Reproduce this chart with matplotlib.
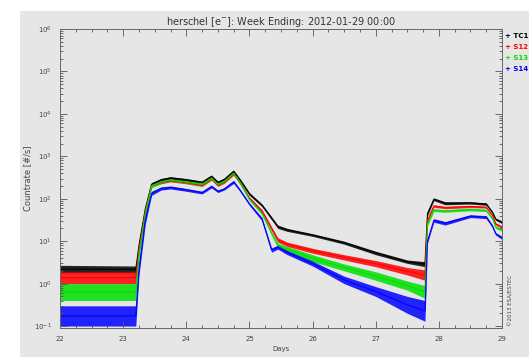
import numpy as np
import matplotlib
matplotlib.use("Agg")
import matplotlib.pyplot as plt
from matplotlib.patches import Rectangle
from matplotlib.ticker import MultipleLocator, LogLocator, NullFormatter

# time samples (days)
days = [22.0, 23.2, 23.25, 23.35, 23.45, 23.6, 23.75, 24.0, 24.25, 24.4, 24.5, 24.6,
        24.75, 24.85, 25.0, 25.2, 25.35, 25.45, 25.6, 26.0, 26.5, 27.0, 27.5, 27.78,
        27.82, 27.92, 28.1, 28.5, 28.75, 28.85, 28.9, 29.0]

# count rate envelopes (#/s), low and high edge of each band
tc1_lo = [1.8, 1.8, 6, 50, 200, 260, 290, 260, 230, 320, 230, 270,
          420, 260, 120, 65, 32, 20, 17, 13, 8.5, 4.8, 3.0, 2.5,
          40, 90, 72, 75, 70, 45, 31, 26]
tc1_hi = [2.7, 2.6, 10, 65, 240, 300, 330, 300, 260, 360, 260, 300,
          470, 300, 140, 75, 38, 24, 20, 15, 10, 5.8, 3.6, 3.3,
          50, 105, 85, 85, 80, 50, 35, 30]

s12_lo = [1.0, 1.0, 5, 45, 190, 225, 250, 225, 195, 275, 195, 230,
          360, 225, 95, 48, 18, 9.5, 7.5, 5.2, 3.6, 2.5, 1.6, 1.2,
          28, 63, 58, 62, 60, 38, 24, 20]
s12_hi = [1.9, 1.9, 8, 55, 220, 255, 285, 255, 220, 310, 220, 255,
          400, 255, 110, 55, 22, 12, 9.5, 6.8, 4.8, 3.5, 2.4, 2.1,
          33, 72, 66, 70, 66, 42, 27, 23]

s13_lo = [0.4, 0.4, 4, 40, 180, 230, 260, 230, 200, 285, 200, 240,
          370, 230, 90, 42, 14, 7, 5.5, 3.3, 2.0, 1.2, 0.7, 0.45,
          23, 50, 48, 52, 50, 32, 20, 17]
s13_hi = [1.0, 1.0, 6, 50, 220, 265, 295, 265, 235, 325, 235, 270,
          420, 265, 105, 48, 17, 9, 7.5, 4.8, 2.9, 1.9, 1.15, 0.9,
          28, 58, 55, 60, 56, 36, 23, 19]

s14_lo = [0.1, 0.1, 1.5, 25, 120, 160, 170, 150, 130, 180, 140, 160,
          230, 150, 70, 30, 5.5, 6.5, 4.8, 2.6, 1.0, 0.5, 0.2, 0.13,
          9, 28, 24, 36, 34, 21, 14, 11]
s14_hi = [0.3, 0.3, 3, 40, 150, 190, 200, 175, 150, 210, 160, 180,
          270, 170, 80, 36, 7, 8, 6, 3.4, 1.5, 0.85, 0.5, 0.4,
          11, 34, 29, 42, 40, 24, 16, 13]

series = [("TC1", tc1_lo, tc1_hi, "#000000"),
          ("S12", s12_lo, s12_hi, "#ff0000"),
          ("S13", s13_lo, s13_hi, "#00e000"),
          ("S14", s14_lo, s14_hi, "#0000ff")]

W, H = 529, 357
fig = plt.figure(figsize=(W / 100, H / 100), dpi=100)
fig.patch.set_facecolor("white")


def fx(x):
    return x / W


def fy(y):
    return 1 - y / H


# grey panel behind the plot
fig.patches.append(Rectangle((fx(20), 0), 1 - fx(20), fy(11), transform=fig.transFigure,
                             facecolor="#e6e6e6", edgecolor="none", zorder=-10))

ax = fig.add_axes([fx(60), fy(328), fx(502) - fx(60), fy(29) - fy(328)])
ax.set_facecolor("#e6e6e6")
ax.set_yscale("log")
ax.set_xlim(22, 29)
ax.set_ylim(0.09, 1e6)

t = np.array(days)
for name, lo, hi, col in series:
    lo = np.array(lo)
    hi = np.array(hi)
    ax.fill_between(t, lo, hi, color=col, lw=0, alpha=0.85)
    ax.plot(t, np.sqrt(lo * hi), color=col, lw=0.8)

ax.xaxis.set_major_locator(MultipleLocator(1))
ax.xaxis.set_minor_locator(MultipleLocator(0.25))
ax.yaxis.set_major_locator(LogLocator(base=10, numticks=20))
ax.yaxis.set_minor_locator(LogLocator(base=10, subs=np.arange(2, 10), numticks=20))
ax.yaxis.set_minor_formatter(NullFormatter())
ax.set_yticks([10.0 ** k for k in range(-1, 7)])
ax.set_yticklabels([r"10$^{%d}$" % k for k in range(-1, 7)])
ax.set_xticks(range(22, 30))
ax.set_xticklabels([str(d) for d in range(22, 30)])

ax.tick_params(which="both", direction="in", top=True, right=True,
               colors="#555555", labelcolor="#444444", labelsize=5, width=0.6)
ax.tick_params(which="major", length=5, pad=6)
ax.tick_params(which="minor", length=2.5)
for s in ax.spines.values():
    s.set_color("#666666")
    s.set_linewidth(0.7)

ax.set_xlabel("Days", fontsize=5, color="#444444", labelpad=3)
ax.set_ylabel("Countrate [#/s]", fontsize=6, color="#444444", labelpad=1)
ax.set_title("herschel [e$^{-}$]: Week Ending: 2012-01-29 00:00", fontsize=7,
             color="#333333", pad=3)

# legend text to the right of the plot
leg_y = [36, 47, 58, 69]
for (name, lo, hi, col), yy in zip(series, leg_y):
    fig.text(fx(505), fy(yy), "+ " + name, color=col, fontsize=5,
             fontweight="bold", va="center", ha="left")

fig.text(fx(511), fy(300), "\u00a92013 ESA/ESTEC", rotation=90, fontsize=4,
         color="#444444", ha="center", va="center")

fig.savefig("out.png", dpi=100)
